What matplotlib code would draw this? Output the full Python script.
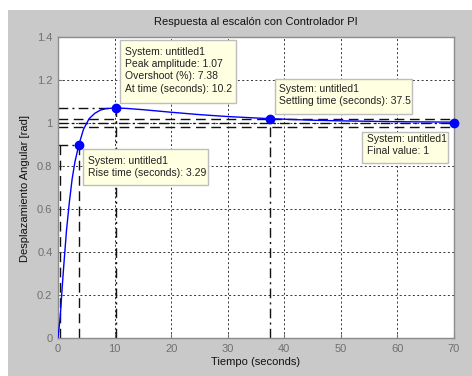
import matplotlib
matplotlib.use("Agg")
import matplotlib.pyplot as plt
from matplotlib.patches import Rectangle

plt.rcParams["font.family"] = ["Liberation Sans", "DejaVu Sans"]

# ---- data ----
t = [0, 0.2, 0.4, 0.7, 1.0, 1.5, 2.0, 2.5, 3.0, 3.7, 4.5, 5.5, 6.5, 7.5, 8.5, 10.2,
     12, 15, 20, 25, 30, 37.5, 45, 50, 55, 60, 65, 70]
y = [0, 0.05, 0.10, 0.22, 0.33, 0.50, 0.63, 0.74, 0.82, 0.90, 0.97, 1.02, 1.045,
     1.06, 1.067, 1.07, 1.068, 1.062, 1.05, 1.039, 1.03, 1.02, 1.013, 1.010,
     1.008, 1.006, 1.005, 1.004]

rise_t10, rise_t90, rise_y90 = 0.4, 3.7, 0.9
peak_t, peak_y = 10.2, 1.07
settle_t, settle_y = 37.5, 1.02
final_t, final_y = 70, 1.0
settle_band = [1.02, 0.98]

title = "Respuesta al escalón con Controlador PI"
xlabel = "Tiempo (seconds)"
ylabel = "Desplazamiento Angular [rad]"
xticks = [0, 10, 20, 30, 40, 50, 60, 70]
yticks = [0, 0.2, 0.4, 0.6, 0.8, 1, 1.2, 1.4]
ytick_labels = ["0", "0.2", "0.4", "0.6", "0.8", "1", "1.2", "1.4"]

box_peak = "System: untitled1\nPeak amplitude: 1.07\nOvershoot (%): 7.38\nAt time (seconds): 10.2"
box_settle = "System: untitled1\nSettling time (seconds): 37.5"
box_rise = "System: untitled1\nRise time (seconds): 3.29"
box_final = "System: untitled1\nFinal value: 1"

W, H = 472, 376
fig = plt.figure(figsize=(W / 100, H / 100), dpi=100)
fig.patch.set_facecolor("white")

def fx(px):
    return px / W

def fy(py):
    return 1 - py / H

# gray figure area
fig.patches.append(Rectangle((fx(8), 0), 1 - fx(8), fy(10), transform=fig.transFigure,
                             facecolor="#c9c9c9", edgecolor="none", zorder=-10))

ax = fig.add_axes([fx(58), fy(338), fx(454) - fx(58), fy(37) - fy(338)])
ax.set_facecolor("white")
ax.set_xlim(0, 70)
ax.set_ylim(0, 1.4)
ax.set_xticks(xticks)
ax.set_yticks(yticks)
ax.set_yticklabels(ytick_labels)
ax.tick_params(colors="#707070", labelsize=8, length=3, direction="in", pad=4)
for s in ax.spines.values():
    s.set_color("#8c8c8c")
    s.set_linewidth(1.0)
ax.grid(True, linestyle=(0, (2, 2.5)), color="#333333", linewidth=0.7)
ax.set_axisbelow(True)

kline = dict(color="#111111", linewidth=1.0, zorder=2)
dashdot = (0, (7, 3, 1.5, 3))
dashed = (0, (7, 4))
# rise time lines
ax.plot([0, rise_t90], [rise_y90, rise_y90], linestyle=dashdot, **kline)
ax.plot([rise_t10, rise_t10], [0, rise_y90], linestyle=dashed, **kline)
ax.plot([rise_t90, rise_t90], [0, rise_y90], linestyle=dashed, **kline)
# peak lines
ax.plot([0, peak_t], [peak_y, peak_y], linestyle=dashdot, **kline)
ax.plot([peak_t, peak_t], [0, peak_y], linestyle=dashdot, **kline)
# settling lines
for b in settle_band:
    ax.plot([0, 70], [b, b], linestyle=dashed, **kline)
ax.plot([settle_t, settle_t], [0, settle_y], linestyle=dashdot, **kline)
# final value
ax.plot([0, 70], [final_y, final_y], linestyle=dashdot, **kline)

ax.plot(t, y, color="blue", linewidth=1.0, zorder=3)
ax.plot([rise_t90, peak_t, settle_t, final_t], [rise_y90, peak_y, settle_y, final_y],
        "o", color="blue", markersize=6, zorder=4, clip_on=False)

fig.text(fx(256), fy(22), title, ha="center", va="center", fontsize=8, color="#111111")
fig.text(fx(256), fy(362), xlabel, ha="center", va="center", fontsize=8, color="#111111")
fig.text(fx(25), fy(188), ylabel, ha="center", va="center", rotation=90, fontsize=8,
         color="#111111")

def box(x0, y0, x1, y1, tx, ty, text):
    fig.patches.append(Rectangle((fx(x0), fy(y1)), fx(x1) - fx(x0), fy(y0) - fy(y1),
                                 transform=fig.transFigure, facecolor="#ffffe1",
                                 edgecolor="#bdbdbd", linewidth=1.0, zorder=5))
    fig.text(fx(tx), fy(ty), text, ha="left", va="top", fontsize=7.5, color="#222222",
             linespacing=1.28, zorder=6)

box(120, 40, 236, 103, 125, 47, box_peak)
box(275, 79, 412, 114, 279, 84, box_settle)
box(83, 149, 208, 185, 88, 156, box_rise)
box(362, 132, 448, 163, 367, 134, box_final)

fig.savefig("out.png", dpi=100)
